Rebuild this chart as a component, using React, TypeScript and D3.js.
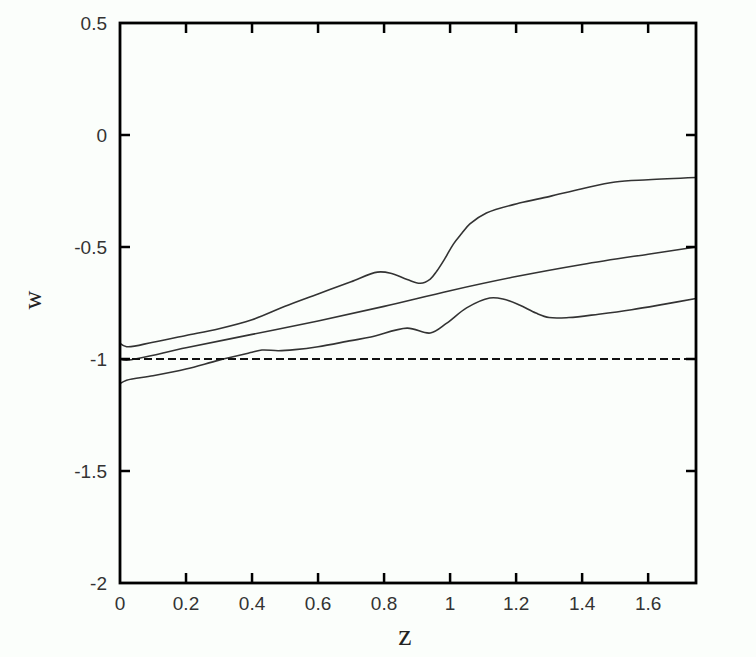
import React from "react";
import * as d3 from "d3";

const upperZ = [0, 0.02, 0.1, 0.2, 0.3, 0.4, 0.5, 0.6, 0.7, 0.78, 0.82, 0.87, 0.91, 0.94, 0.96, 0.985, 1.01, 1.035, 1.06, 1.11, 1.21, 1.3, 1.4, 1.5, 1.6, 1.745];
const upperW = [-0.93, -0.945, -0.925, -0.895, -0.865, -0.825, -0.765, -0.71, -0.655, -0.612, -0.617, -0.645, -0.662, -0.643, -0.607, -0.55, -0.487, -0.44, -0.397, -0.348, -0.304, -0.275, -0.24, -0.21, -0.2, -0.19];

const middleZ = [0, 0.02, 0.2, 0.4, 0.6, 0.8, 1.0, 1.2, 1.4, 1.6, 1.745];
const middleW = [-1.0, -1.005, -0.95, -0.89, -0.83, -0.765, -0.695, -0.632, -0.578, -0.532, -0.5];

const lowerZ = [0, 0.02, 0.1, 0.2, 0.3, 0.4, 0.43, 0.48, 0.53, 0.6, 0.7, 0.76, 0.87, 0.94, 0.99, 1.05, 1.12, 1.16, 1.21, 1.26, 1.3, 1.36, 1.45, 1.55, 1.65, 1.745];
const lowerW = [-1.11, -1.095, -1.075, -1.045, -1.005, -0.97, -0.96, -0.963, -0.958, -0.945, -0.918, -0.902, -0.862, -0.884, -0.84, -0.772, -0.728, -0.732, -0.759, -0.795, -0.815, -0.815, -0.8, -0.78, -0.755, -0.73];

const xTicks = [0, 0.2, 0.4, 0.6, 0.8, 1, 1.2, 1.4, 1.6];
const yTicks = [0.5, 0, -0.5, -1, -1.5, -2];
const refW = -1;

export default function App() {
  const left = 120, right = 696, top = 23, bottom = 583;
  const x = d3.scaleLinear().domain([0, 1.745]).range([left, right]);
  const y = d3.scaleLinear().domain([-2, 0.5]).range([bottom, top]);
  const line = d3
    .line<[number, number]>()
    .x((d) => x(d[0]))
    .y((d) => y(d[1]))
    .curve(d3.curveCatmullRom.alpha(0.5));
  const mk = (zs: number[], ws: number[]) => zs.map((z, i) => [z, ws[i]] as [number, number]);
  const series = [mk(upperZ, upperW), mk(middleZ, middleW), mk(lowerZ, lowerW)];
  const tl = 10;
  const font = "'Liberation Sans', Arial, sans-serif";
  return (
    <svg width={756} height={657} style={{ position: "absolute", left: 0, top: 0, background: "#fbfefb" }}>
      <rect x={0} y={0} width={756} height={657} fill="#fbfefb" />
      {series.map((s, i) => (
        <path key={i} d={line(s) || ""} fill="none" stroke="#333" strokeWidth={1.6} />
      ))}
      <line x1={x(0)} x2={x(1.745)} y1={y(refW)} y2={y(refW)} stroke="#111" strokeWidth={2} strokeDasharray="8,4" />
      {xTicks.filter((t) => t > 0).map((t) => (
        <g key={"xt" + t}>
          <line x1={x(t)} x2={x(t)} y1={bottom} y2={bottom - tl} stroke="#000" strokeWidth={2.5} />
          <line x1={x(t)} x2={x(t)} y1={top} y2={top + tl} stroke="#000" strokeWidth={2.5} />
        </g>
      ))}
      {yTicks.filter((t) => t > -2 && t < 0.5).map((t) => (
        <g key={"yt" + t}>
          <line x1={left} x2={left + tl} y1={y(t)} y2={y(t)} stroke="#000" strokeWidth={2.5} />
          <line x1={right} x2={right - tl} y1={y(t)} y2={y(t)} stroke="#000" strokeWidth={2.5} />
        </g>
      ))}
      <rect x={left} y={top} width={right - left} height={bottom - top} fill="none" stroke="#000" strokeWidth={2.8} />
      {xTicks.map((t) => (
        <text key={"xl" + t} x={x(t)} y={bottom + 27} textAnchor="middle" fontFamily={font} fontSize={19} fill="#333">
          {String(t)}
        </text>
      ))}
      {yTicks.map((t) => (
        <text key={"yl" + t} x={left - 13} y={y(t) + 7} textAnchor="end" fontFamily={font} fontSize={19} fill="#333">
          {String(t)}
        </text>
      ))}
      <text x={405} y={645} textAnchor="middle" fontFamily="'Liberation Serif', 'DejaVu Serif', serif" fontSize={30} fill="#222">z</text>
      <text transform="translate(41,300) rotate(-90)" textAnchor="middle" fontFamily="'Liberation Serif', 'DejaVu Serif', serif" fontSize={26} fill="#222">w</text>
    </svg>
  );
}
